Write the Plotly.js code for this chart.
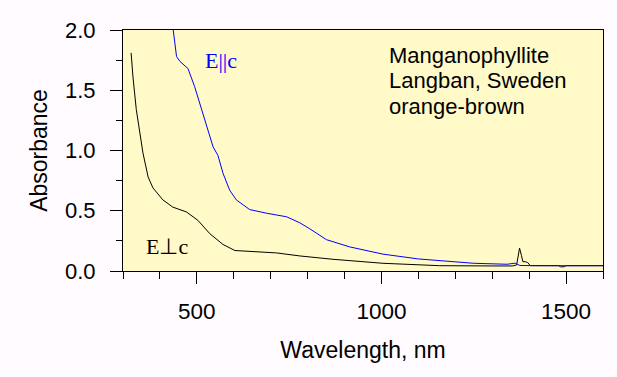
<!DOCTYPE html>
<html>
<head>
<meta charset="utf-8">
<script src="https://cdn.plot.ly/plotly-3.0.1.min.js"></script>
<style>html,body{margin:0;padding:0;background:#FFFBFF;}#chart{width:617px;height:377px;}</style>
</head>
<body>
<div id="chart"></div>
<script>
// E perpendicular c (black)
var wlPerp = [322, 327, 336, 345, 354, 368, 381, 408, 435, 472, 503, 535, 571, 603, 652, 716, 779, 833, 869, 1004, 1158, 1300, 1356, 1366, 1370, 1374, 1379, 1383, 1390, 1396, 1403, 1420, 1480, 1485, 1495, 1500, 1600];
var absPerp = [1.81, 1.61, 1.34, 1.14, 0.98, 0.78, 0.69, 0.59, 0.53, 0.49, 0.42, 0.31, 0.22, 0.17, 0.16, 0.15, 0.125, 0.105, 0.097, 0.064, 0.044, 0.042, 0.042, 0.05, 0.12, 0.19, 0.13, 0.077, 0.077, 0.07, 0.045, 0.044, 0.044, 0.035, 0.035, 0.044, 0.044];
// E parallel c (blue)
var wlPar = [434, 445, 454, 476, 494, 508, 526, 544, 557, 571, 589, 607, 643, 688, 743, 779, 806, 851, 914, 1004, 1100, 1160, 1250, 1340, 1362, 1375, 1410, 1600];
var absPar = [2.05, 1.78, 1.74, 1.68, 1.53, 1.39, 1.20, 1.03, 0.96, 0.81, 0.67, 0.59, 0.51, 0.48, 0.45, 0.40, 0.35, 0.26, 0.20, 0.14, 0.10, 0.085, 0.064, 0.056, 0.065, 0.046, 0.044, 0.044];

var labelPar = "E||c";
var labelPerp = "E\u22A5c";
var infoLines = ["Manganophyllite", "Langban, Sweden", "orange-brown"];
var infoY = [1.788, 1.580, 1.367];

var sans = "Liberation Sans, Arial, sans-serif";
var serif = "Liberation Serif, Times New Roman, serif";

var traces = [
  {x: wlPerp, y: absPerp, type: "scatter", mode: "lines", line: {color: "#000000", width: 1}, hoverinfo: "skip"},
  {x: wlPar, y: absPar, type: "scatter", mode: "lines", line: {color: "#0000FF", width: 1}, hoverinfo: "skip"}
];

var annotations = [
  {x: 565, y: 1.743, xref: "x", yref: "y", text: labelPar, showarrow: false,
   font: {family: serif, size: 22, color: "#0000FF"}, xanchor: "center", yanchor: "middle"},
  {x: 420, y: 0.2, xref: "x", yref: "y", text: labelPerp, showarrow: false,
   font: {family: serif, size: 22, color: "#000000"}, xanchor: "center", yanchor: "middle"}
];
infoLines.forEach(function (t, i) {
  annotations.push({x: 1014, y: infoY[i], xref: "x", yref: "y", text: t, showarrow: false, align: "left",
    font: {family: sans, size: 22, color: "#000000"}, xanchor: "left", yanchor: "middle"});
});

var layout = {
  width: 617, height: 377,
  margin: {l: 123, r: 14, t: 30, b: 106},
  paper_bgcolor: "#FFFBFF",
  plot_bgcolor: "#FFFAC8",
  showlegend: false,
  font: {family: sans, size: 22, color: "#000000"},
  xaxis: {
    range: [300, 1600], tick0: 0, dtick: 500,
    ticks: "outside", ticklen: 12, tickwidth: 1, tickcolor: "#000",
    minor: {dtick: 100, ticks: "outside", ticklen: 7, tickwidth: 1, tickcolor: "#000"},
    showline: true, linecolor: "#000", linewidth: 1, mirror: true,
    showgrid: false, zeroline: false,
    tickfont: {family: sans, size: 22.5},
    ticklabelstandoff: 8,
    title: {text: "Wavelength, nm", font: {family: sans, size: 23}, standoff: 18}
  },
  yaxis: {
    range: [0, 2], tick0: 0, dtick: 0.5, tickformat: ".1f",
    ticks: "outside", ticklen: 12, tickwidth: 1, tickcolor: "#000",
    minor: {dtick: 0.25, ticks: "outside", ticklen: 6, tickwidth: 1, tickcolor: "#000"},
    showline: true, linecolor: "#000", linewidth: 1, mirror: true,
    showgrid: false, zeroline: false,
    tickfont: {family: sans, size: 22},
    ticklabelstandoff: 10,
    title: {text: "Absorbance", font: {family: sans, size: 23}, standoff: 10}
  },
  annotations: annotations
};

Plotly.newPlot("chart", traces, layout, {staticPlot: true, displayModeBar: false});
</script>
</body>
</html>
